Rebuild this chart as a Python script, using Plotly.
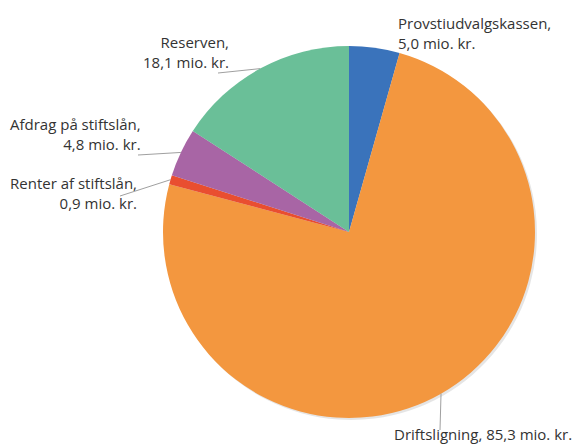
import math
import plotly.graph_objects as go

labels = ["Provstiudvalgskassen", "Driftsligning", "Renter af stiftslån", "Afdrag på stiftslån", "Reserven"]
values = [5.0, 85.3, 0.9, 4.8, 18.1]
value_text = ["5,0", "85,3", "0,9", "4,8", "18,1"]
colors = ["#3A73BB", "#F3973F", "#E94E30", "#A865A5", "#6ABF98"]

W, H = 575, 444
# desired pixel geometry of the pie
PCX, PCY, PR = 349, 232, 186
SH = 2  # shadow offset, px
ML = PCX - PR
MT = PCY - PR
PW = PH = 2 * PR + SH
MR = W - (ML + PW)
MB = H - (MT + PH)
CX, CY, R = PCX, PCY, PR


def px(x):
    return (x - ML) / PW


def py(y):
    return (H - MB - y) / PH


total = sum(values)
mid_pts = []
cum = 0
for v in values:
    th = math.radians(360 * (cum + v / 2) / total)
    mid_pts.append((CX + R * math.sin(th), CY - R * math.cos(th)))
    cum += v

# label layout in pixels: (text x, text y, xanchor, leader tail or None, single line?)
label_layout = [
    (396, 33, "left", None, False),
    (392, 434, "left", (440, 430), True),
    (139, 193, "right", (120, 196), False),
    (143, 134, "right", (138, 155), False),
    (231, 52, "right", (218, 73), False),
]

fig = go.Figure()
# soft drop shadow
fig.add_trace(go.Pie(
    values=values, sort=False, direction="clockwise", rotation=0,
    marker=dict(colors=["rgba(0,0,0,0.10)"] * len(values), line=dict(width=0)),
    textinfo="none", hoverinfo="skip", showlegend=False,
    domain=dict(x=[SH / PW, 1], y=[0, 1 - SH / PH]),
))
fig.add_trace(go.Pie(
    labels=labels, values=values, sort=False, direction="clockwise", rotation=0,
    marker=dict(colors=colors, line=dict(width=0)),
    textinfo="none", hoverinfo="label+value", showlegend=False,
    domain=dict(x=[0, 1 - SH / PW], y=[SH / PH, 1]),
))

annotations = []
shapes = []
for i, (lab, vt) in enumerate(zip(labels, value_text)):
    tx, ty, xa, tail, single = label_layout[i]
    if single:
        txt = f"{lab}, {vt} mio. kr."
    else:
        txt = f"{lab},<br>{vt} mio. kr."
    annotations.append(dict(
        x=px(tx), y=py(ty), xref="paper", yref="paper", text=txt, showarrow=False,
        xanchor=xa, yanchor="middle", align=xa,
        font=dict(family="Open Sans", size=15, color="#333333"),
    ))
    if tail is not None:
        mx, my = mid_pts[i]
        shapes.append(dict(type="line", xref="paper", yref="paper",
                           x0=px(tail[0]), y0=py(tail[1]), x1=px(mx), y1=py(my),
                           line=dict(color="#A0A0A0", width=1)))

fig.update_layout(
    width=W, height=H, margin=dict(l=ML, r=MR, t=MT, b=MB),
    paper_bgcolor="white", plot_bgcolor="white",
    annotations=annotations, shapes=shapes,
)
fig.write_html(
    "out.html",
    config={"displayModeBar": False},
    post_script="document.body.style.margin='0';document.body.style.overflow='hidden';",
)
